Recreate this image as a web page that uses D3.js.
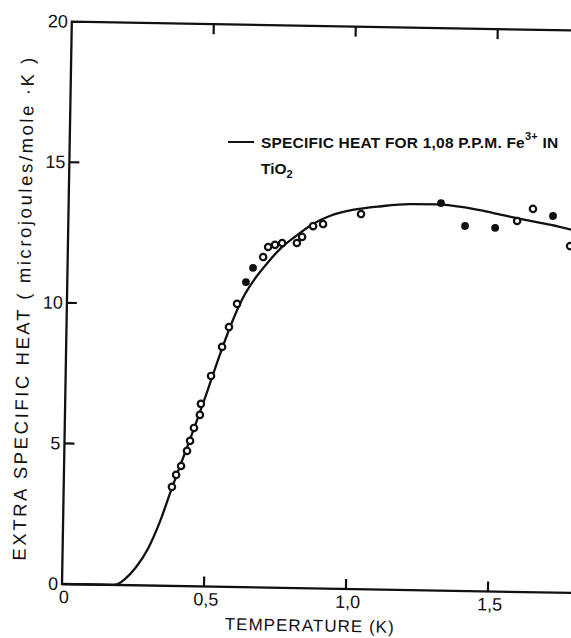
<!DOCTYPE html>
<html>
<head>
<meta charset="utf-8">
<script src="https://cdn.jsdelivr.net/npm/d3@7"></script>
<style>
  body { margin: 0; background: #fff; }
  text { font-family: "Liberation Sans", Arial, sans-serif; fill: #111; }
</style>
</head>
<body>
<div id="chart"></div>
<script>
// open circles (temperature K, extra specific heat)
var openT = [0.381, 0.395, 0.412, 0.432, 0.442, 0.455, 0.475, 0.478, 0.512, 0.549, 0.572, 0.599,
             0.688, 0.705, 0.729, 0.754, 0.806, 0.824, 0.862, 0.897, 1.030, 1.580, 1.635, 1.768];
var openC = [3.52, 3.95, 4.27, 4.81, 5.17, 5.63, 6.10, 6.49, 7.49, 8.53, 9.24, 10.07,
             11.75, 12.11, 12.19, 12.26, 12.27, 12.49, 12.88, 12.96, 13.34, 13.19, 13.63, 12.33];
// filled circles
var fillT = [0.629, 0.653, 1.311, 1.397, 1.503, 1.706];
var fillC = [10.85, 11.36, 13.78, 12.98, 12.93, 13.39];
// calculated specific heat curve
var curveT = [0, 0.18, 0.20, 0.22, 0.26, 0.30, 0.34, 0.38, 0.42, 0.46, 0.50, 0.54, 0.58, 0.62, 0.66,
              0.70, 0.75, 0.80, 0.86, 0.92, 1.00, 1.10, 1.20, 1.30, 1.40, 1.50, 1.60, 1.70, 1.80];
var curveC = [0, 0, 0.05, 0.2, 0.65, 1.3, 2.25, 3.45, 4.6, 5.75, 6.95, 8.2, 9.35, 10.3, 10.97,
              11.5, 12.08, 12.5, 12.95, 13.25, 13.48, 13.63, 13.72, 13.73, 13.63, 13.45, 13.25, 13.07, 12.85];

var yTicks = [5, 10, 15];
var yLabels = ["0", "5", "10", "15", "20"];
var xTicks = [0.5, 1.0, 1.5];
var xLabels = ["0", "0,5", "1,0", "1,5"];

var W = 571, H = 638;
var svg = d3.select("#chart").append("svg")
    .attr("width", W)
    .attr("height", H);

// the scanned figure is tilted by about one degree
var g = svg.append("g")
    .attr("transform", "translate(62,584) rotate(1)");

var x = d3.scaleLinear().domain([0, 2]).range([0, 568]);
var y = d3.scaleLinear().domain([0, 20]).range([0, -562.4]);

// frame
g.append("path")
    .attr("d", "M" + x(2) + "," + y(20) + "H" + x(0) + "V" + y(0) + "H" + x(2))
    .attr("fill", "none")
    .attr("stroke", "#111")
    .attr("stroke-width", 2.3);

g.selectAll(".ytick")
  .data(yTicks)
  .enter()
  .append("line")
    .attr("x1", 0).attr("x2", 10)
    .attr("y1", function(d){ return y(d) })
    .attr("y2", function(d){ return y(d) })
    .attr("stroke", "#111")
    .attr("stroke-width", 2.2);

g.selectAll(".xtick")
  .data(xTicks)
  .enter()
  .append("line")
    .attr("x1", function(d){ return x(d) })
    .attr("x2", function(d){ return x(d) })
    .attr("y1", 0).attr("y2", -10)
    .attr("stroke", "#111")
    .attr("stroke-width", 2.2);

g.selectAll(".toptick")
  .data(xTicks)
  .enter()
  .append("line")
    .attr("x1", function(d){ return x(d) })
    .attr("x2", function(d){ return x(d) })
    .attr("y1", y(20)).attr("y2", y(20) + 10)
    .attr("stroke", "#111")
    .attr("stroke-width", 2.2);

// tick labels
g.selectAll(".ylab")
  .data(yLabels)
  .enter()
  .append("text")
    .attr("x", -4)
    .attr("y", function(d){ return y(+d) + 6 })
    .attr("text-anchor", "end")
    .style("font-size", "18px")
    .text(function(d){ return d });

g.selectAll(".xlab")
  .data(xLabels)
  .enter()
  .append("text")
    .attr("x", function(d){ return x(parseFloat(d.replace(",", "."))) + 2 })
    .attr("y", 19)
    .attr("text-anchor", "middle")
    .style("font-size", "18px")
    .text(function(d){ return d });

// axis titles
g.append("text")
    .attr("x", x(0.873))
    .attr("y", 43)
    .attr("text-anchor", "middle")
    .style("font-size", "17px")
    .attr("textLength", 169)
    .attr("lengthAdjust", "spacing")
    .text("TEMPERATURE  (K)");

g.append("text")
    .attr("transform", "translate(-37," + y(9.75) + ") rotate(-90)")
    .attr("text-anchor", "middle")
    .style("font-size", "18.5px")
    .attr("textLength", 503)
    .attr("lengthAdjust", "spacing")
    .text("EXTRA SPECIFIC HEAT ( microjoules/mole \u00b7K )");

// curve
var line = d3.line()
    .x(function(d){ return x(d[0]) })
    .y(function(d){ return y(d[1]) })
    .curve(d3.curveMonotoneX);

g.append("path")
    .datum(curveT.map(function(t, i){ return [t, curveC[i]] }))
    .attr("d", line)
    .attr("fill", "none")
    .attr("stroke", "#111")
    .attr("stroke-width", 2.3);

// data points
g.selectAll(".open")
  .data(openT)
  .enter()
  .append("circle")
    .attr("cx", function(d){ return x(d) })
    .attr("cy", function(d, i){ return y(openC[i]) })
    .attr("r", 3.2)
    .attr("fill", "#fff")
    .attr("stroke", "#111")
    .attr("stroke-width", 2.2);

g.selectAll(".filled")
  .data(fillT)
  .enter()
  .append("circle")
    .attr("cx", function(d){ return x(d) })
    .attr("cy", function(d, i){ return y(fillC[i]) })
    .attr("r", 3.9)
    .attr("fill", "#111");

// legend
var lg = svg.append("g").attr("transform", "translate(228,142)");
lg.append("line")
    .attr("x1", 0).attr("x2", 26)
    .attr("y1", 0).attr("y2", 0)
    .attr("stroke", "#111")
    .attr("stroke-width", 2);

var t1 = lg.append("text")
    .attr("x", 33).attr("y", 6)
    .style("font-size", "15.5px")
    .style("font-weight", "bold")
    .style("letter-spacing", "0.2px");
t1.append("tspan").text("SPECIFIC  HEAT  FOR  1,08  P.P.M.  Fe");
t1.append("tspan").attr("dy", -8).style("font-size", "11px").text("3+");
t1.append("tspan").attr("dy", 8).text(" IN");

var t2 = lg.append("text")
    .attr("x", 33).attr("y", 32)
    .style("font-size", "15.5px")
    .style("font-weight", "bold");
t2.append("tspan").text("TiO");
t2.append("tspan").attr("dy", 4).style("font-size", "11px").text("2");
</script>
</body>
</html>
